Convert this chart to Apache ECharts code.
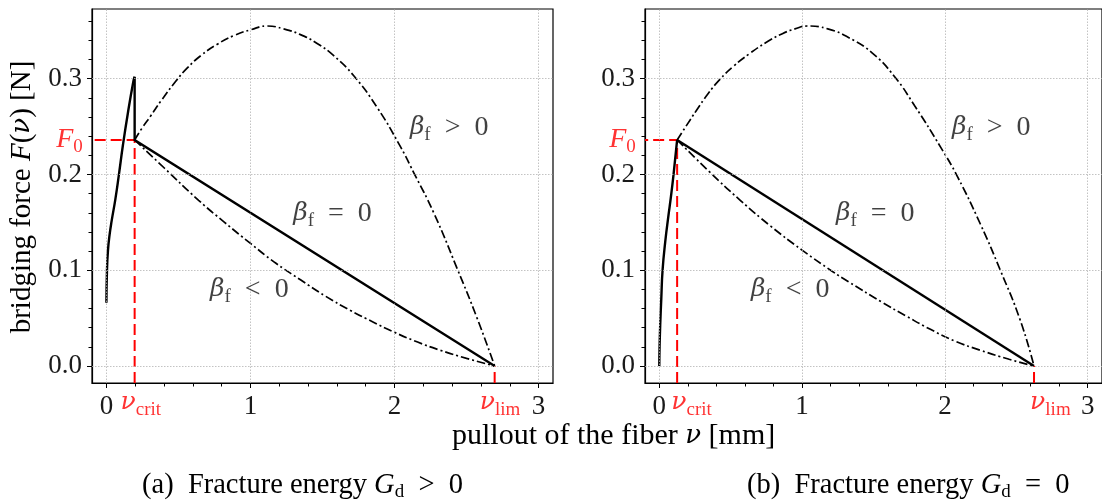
<!DOCTYPE html>
<html><head><meta charset="utf-8">
<script src="https://cdn.jsdelivr.net/npm/echarts@6/dist/echarts.min.js"></script>
<style>html,body{margin:0;padding:0;background:#fff}#c{width:1102px;height:503px}</style>
</head><body><div id="c"></div>
<script>
// ---------- data ----------
const xRange = [-0.1, 3.1];
const yRange = [-0.01775, 0.37275];
const xMajor = [0, 1, 2, 3];
const xMinor = [0.2, 0.4, 0.6, 0.8, 1.2, 1.4, 1.6, 1.8, 2.2, 2.4, 2.6, 2.8];
const yMajor = [0, 0.1, 0.2, 0.3];
const yMinor = [0.02, 0.04, 0.06, 0.08, 0.12, 0.14, 0.16, 0.18, 0.22, 0.24, 0.26, 0.28, 0.32, 0.34, 0.36];
const F0 = 0.236;

// panel (a) G_d > 0
const nuCritA = 0.196, nuLimA = 2.695;
const riseA = [[0,0.066],[0.004,0.1],[0.011,0.121],[0.022,0.137],[0.037,0.152],[0.062,0.174],[0.087,0.2],[0.115,0.231],[0.15,0.265],[0.187,0.297],[0.196,0.302]];
const softA = [[0.196,0.302],[0.196,0.236],[2.695,0]];
const posA = [[0.196,0.236],[0.25,0.249],[0.307,0.261],[0.38,0.277],[0.48,0.297],[0.56,0.311],[0.655,0.324],[0.77,0.336],[0.885,0.345],[1.0,0.351],[1.117,0.355],[1.23,0.352],[1.347,0.346],[1.46,0.337],[1.578,0.324],[1.717,0.303],[1.879,0.27],[2.041,0.229],[2.133,0.202],[2.272,0.16],[2.434,0.102],[2.573,0.05],[2.695,0]];
const negA = [[0.196,0.236],[0.4,0.207],[0.64,0.173],[0.82,0.15],[1.0,0.128],[1.17,0.108],[1.347,0.09],[1.52,0.073],[1.694,0.058],[1.85,0.046],[1.995,0.0355],[2.16,0.025],[2.318,0.0164],[2.5,0.008],[2.695,0]];
const labelAnchorA = [[2.11,0.248],[1.30,0.159],[0.723,0.079]];

// panel (b) G_d = 0
const nuCritB = 0.125, nuLimB = 2.624;
const riseB = [[0,0],[0.002,0.02],[0.007,0.045],[0.014,0.07],[0.023,0.1],[0.042,0.13],[0.065,0.158],[0.081,0.176],[0.1,0.2],[0.125,0.236]];
const softB = [[0.125,0.236],[2.624,0]];
const posB = [[0.125,0.236],[0.19,0.251],[0.261,0.267],[0.34,0.284],[0.423,0.299],[0.52,0.313],[0.631,0.326],[0.75,0.338],[0.862,0.347],[0.95,0.352],[1.036,0.355],[1.18,0.352],[1.325,0.343],[1.49,0.327],[1.648,0.302],[1.787,0.272],[1.972,0.228],[2.087,0.198],[2.249,0.148],[2.388,0.1],[2.527,0.048],[2.624,0]];
const negB = [[0.125,0.236],[0.35,0.203],[0.567,0.173],[0.78,0.146],[1.0,0.121],[1.21,0.099],[1.325,0.088],[1.555,0.067],[1.73,0.052],[1.902,0.038],[2.07,0.026],[2.249,0.0164],[2.45,0.007],[2.624,0]];
const labelAnchorB = [[2.053,0.248],[1.241,0.159],[0.645,0.079]];

const betaTexts = ['>', '=', '<'];

// ---------- styles ----------
const SERIF = 'Liberation Serif';
const GREEK = 'DejaVu Serif';
const FS = 28, SFS = 19, TFS = 27;
const TXT = '#1a1a1a';
function rich(color, fs, sfs, pad) {
  fs = fs || FS; sfs = sfs || SFS; pad = pad == null ? 15 : pad;
  return {
    i: {fontFamily: SERIF, fontStyle: 'italic', fontSize: fs, color: color},
    g: {fontFamily: GREEK, fontStyle: 'italic', fontSize: Math.round(fs * 0.88), color: color},
    n: {fontFamily: SERIF, fontSize: fs, color: color},
    s: {fontFamily: SERIF, fontSize: sfs, color: color, padding: [pad, 0, 0, 0]}
  };
}
const gridBox = [{left: 92, top: 9, width: 461, height: 374}, {left: 645, top: 9, width: 461, height: 374}];

const grids = [], xAxes = [], yAxes = [], series = [];
gridBox.forEach((g) => {
  grids.push(Object.assign({show: true, borderColor: '#000', borderWidth: 1.2, backgroundColor: 'transparent'}, g));
});
gridBox.forEach((g) => {
  grids.push(Object.assign({show: false}, g));
});
for (let k = 0; k < 2; k++) {
  xAxes.push({gridIndex: k, type: 'value', min: xRange[0], max: xRange[1],
    axisLine: {show: true, onZero: false, lineStyle: {color: '#000', width: 1.2}},
    axisTick: {show: true, customValues: xMajor, length: 5, lineStyle: {color: '#000', width: 1}},
    axisLabel: {show: true, customValues: xMajor, margin: 10, fontFamily: SERIF, fontSize: TFS, color: TXT, formatter: v => String(Math.round(v))},
    splitLine: {show: false}});
  yAxes.push({gridIndex: k, type: 'value', min: yRange[0], max: yRange[1],
    axisLine: {show: true, onZero: false, lineStyle: {color: '#000', width: 1.2}},
    axisTick: {show: true, customValues: yMajor, length: 5, lineStyle: {color: '#000', width: 1}},
    axisLabel: {show: true, customValues: yMajor, margin: 10, fontFamily: SERIF, fontSize: TFS, color: TXT, formatter: v => v.toFixed(1)},
    splitLine: {show: false}});
}
for (let k = 0; k < 2; k++) {
  xAxes.push({gridIndex: k + 2, type: 'value', min: xRange[0], max: xRange[1],
    axisLine: {show: false, onZero: false}, axisLabel: {show: false}, splitLine: {show: false},
    axisTick: {show: true, customValues: xMinor, length: 3.5, lineStyle: {color: '#000', width: 1}}});
  yAxes.push({gridIndex: k + 2, type: 'value', min: yRange[0], max: yRange[1],
    axisLine: {show: false, onZero: false}, axisLabel: {show: false}, splitLine: {show: false},
    axisTick: {show: true, customValues: yMinor, length: 3.5, lineStyle: {color: '#000', width: 1}}});
}

const panels = [
  {rise: riseA, soft: softA, pos: posA, neg: negA, crit: nuCritA, lim: nuLimA, anchors: labelAnchorA, critOff: -13.6, limOff: -14.3},
  {rise: riseB, soft: softB, pos: posB, neg: negB, crit: nuCritB, lim: nuLimB, anchors: labelAnchorB, critOff: -5.3, limOff: -3.4}
];
const RED = '#ff0000';
panels.forEach((p, k) => {
  const base = {xAxisIndex: k, yAxisIndex: k, symbol: 'none', silent: true, animation: false};
  // grid lines
  series.push(Object.assign({}, base, {type: 'line', data: [], z: 1,
    markLine: {silent: true, symbol: 'none', label: {show: false}, animation: false,
      lineStyle: {color: '#b4b4b4', width: 0.8, type: [1.5, 1.5]},
      data: xMajor.map(v => ({xAxis: v})).concat(yMajor.map(v => ({yAxis: v})))}}));
  // red dashed guides
  series.push(Object.assign({}, base, {type: 'line', z: 2,
    data: [[p.crit, yRange[0]], [p.crit, F0], [xRange[0], F0]],
    lineStyle: {color: RED, width: 2, type: [11, 5]}}));
  series.push(Object.assign({}, base, {type: 'line', z: 2,
    data: [[p.lim, yRange[0]], [p.lim, 0]],
    lineStyle: {color: RED, width: 2, type: [11, 5]}}));
  // curves
  const dd = {color: '#000', width: 1.7, type: [8.5, 3, 2, 3]};
  series.push(Object.assign({}, base, {type: 'line', z: 3, data: p.pos, smooth: 0.5, lineStyle: dd}));
  series.push(Object.assign({}, base, {type: 'line', z: 3, data: p.neg, smooth: 0.5, lineStyle: dd}));
  series.push(Object.assign({}, base, {type: 'line', z: 4, data: p.rise, smooth: 0.5, lineStyle: {color: '#000', width: 2.4}}));
  series.push(Object.assign({}, base, {type: 'line', z: 4, data: p.soft, lineStyle: {color: '#000', width: 2.4, join: 'miter'}}));
  // labels
  const lab = [];
  p.anchors.forEach((a, j) => {
    lab.push({value: a, label: {show: true, position: [0, 0], align: 'left', verticalAlign: 'middle',
      formatter: '{g|β}{s|f}{n|  ' + betaTexts[j] + '  0}', rich: rich('#111')}});
  });
  lab.push({value: [xRange[0], F0], label: {show: true, position: [-8.7, 0], align: 'right', verticalAlign: 'middle',
    formatter: '{i|F}{s|0}', rich: rich(RED)}});
  lab.push({value: [p.crit, yRange[0]], label: {show: true, position: [p.critOff, 20], align: 'left', verticalAlign: 'middle',
    formatter: '{g|ν}{s|crit}', rich: rich(RED)}});
  lab.push({value: [p.lim, yRange[0]], label: {show: true, position: [p.limOff, 20], align: 'left', verticalAlign: 'middle',
    formatter: '{g|ν}{s|lim}', rich: rich(RED)}});
  series.push(Object.assign({}, base, {type: 'scatter', z: 6, symbol: 'circle', symbolSize: 1, clip: false,
    itemStyle: {color: 'rgba(0,0,0,0)'}, data: lab}));
});

const capRich = rich('#000', 28.5, 19, 13);
const graphic = [
  {type: 'text', left: 452, top: 421, silent: true, style: {text: '{n|pullout of the fiber }{g|ν}{n| [mm]}', rich: rich(TXT, 30)}},
  {type: 'text', x: 22, y: 197, rotation: Math.PI / 2, silent: true,
    style: {text: '{n|bridging force }{i|F}{n|(}{g|ν}{n|) [N]}', rich: rich(TXT, 29), align: 'center', verticalAlign: 'middle'}},
  {type: 'text', x: 142, y: 486, silent: true, style: {text: '{n|(a)  Fracture energy }{i|G}{s|d}{n|  >  0}', rich: capRich, verticalAlign: 'middle'}},
  {type: 'text', x: 747, y: 486, silent: true, style: {text: '{n|(b)  Fracture energy }{i|G}{s|d}{n|  =  0}', rich: capRich, verticalAlign: 'middle'}}
];

const chart = echarts.init(document.getElementById('c'), null, {renderer: 'canvas'});
chart.setOption({animation: false, grid: grids, xAxis: xAxes, yAxis: yAxes, series: series, graphic: graphic});
</script></body></html>
